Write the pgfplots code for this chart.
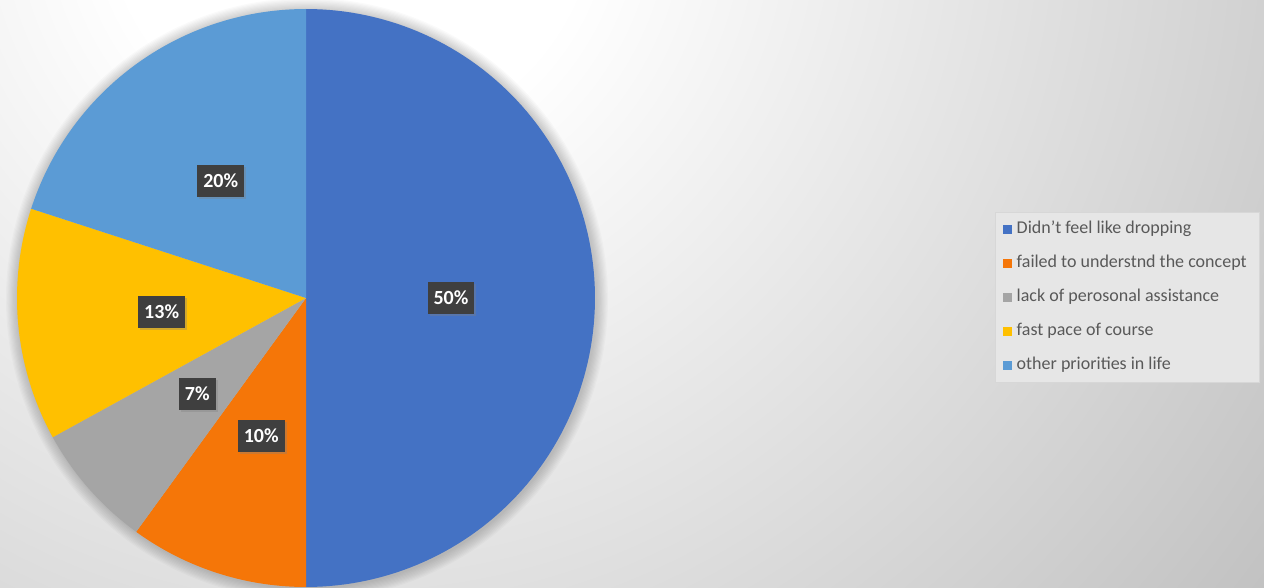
\documentclass[border=0pt]{standalone}
\usepackage{fontspec}
\setmainfont{Carlito}
\usepackage{pgfplots}
\pgfplotsset{compat=1.18}
\usetikzlibrary{shadows}
\definecolor{cA}{HTML}{4472C4}
\definecolor{cB}{HTML}{F57608}
\definecolor{cC}{HTML}{A5A5A5}
\definecolor{cD}{HTML}{FFC000}
\definecolor{cE}{HTML}{5B9BD5}
\definecolor{bgout}{HTML}{BEBEBE}
\definecolor{labbg}{HTML}{3F3F3F}
\definecolor{legtext}{HTML}{595959}
\definecolor{legfill}{HTML}{E6E6E6}
\pgfdeclareradialshading{bgs}{\pgfpointorigin}{color(0bp)=(white); color(5bp)=(white); color(25bp)=(bgout); color(50bp)=(bgout)}
\begin{document}
\begin{tikzpicture}
\useasboundingbox (0,0) rectangle (1264pt,587pt);
% background
\fill[bgout] (-2pt,-2pt) rectangle (1266pt,589pt);
\begin{scope}
\clip (-2pt,-2pt) rectangle (1266pt,589pt);
\shade[shading=bgs] (350pt,687pt) circle (1200pt);
% soft shadow around the pie
\foreach \i in {1,...,10}
  \fill[black, opacity=0.018] (307pt,288pt) circle ({289pt+\i*1.2pt});
\end{scope}
\begin{axis}[
  at={(0,0)}, anchor=south west,
  width=1264pt, height=587pt, scale only axis,
  xmin=0, xmax=1264, ymin=0, ymax=587,
  hide axis, clip=false,
  legend cell align=left,
  legend style={at={(0.7872,0.6388)}, anchor=north west,
    fill=legfill, draw=legfill!85!gray, text=legtext,
    font=\fontsize{18}{21}\selectfont,
    inner xsep=8pt, inner ysep=8.5pt,
    row sep=17pt,
    nodes={inner xsep=4.5pt, inner ysep=0pt, text height=13pt, text depth=4pt}},
  /tikz/lab/.style={fill=labbg, text=white, font=\bfseries\fontsize{20}{24}\selectfont,
    inner xsep=6pt, inner ysep=8.5pt, text height=14pt, text depth=1pt,
    drop shadow={opacity=0.35, shadow xshift=2pt, shadow yshift=-2pt}},
]
% slices: 50, 10, 7, 13, 20 (percent), clockwise from 90 deg
\addplot[fill=cA, draw=none, domain=-90:90, samples=120, variable=\t,
  legend image code/.code={\fill[cA] (1pt,-4.5pt) rectangle (10pt,4.5pt);}]
  ({306+289*cos(\t)},{289+289*sin(\t)}) -- (axis cs:306,289) -- cycle;
\addlegendentry{Didn't feel like dropping}
\addplot[fill=cB, draw=none, domain=-126:-90, samples=40, variable=\t,
  legend image code/.code={\fill[cB] (1pt,-4.5pt) rectangle (10pt,4.5pt);}]
  ({306+289*cos(\t)},{289+289*sin(\t)}) -- (axis cs:306,289) -- cycle;
\addlegendentry{failed to understnd the concept}
\addplot[fill=cC, draw=none, domain=-151.2:-126, samples=30, variable=\t,
  legend image code/.code={\fill[cC] (1pt,-4.5pt) rectangle (10pt,4.5pt);}]
  ({306+289*cos(\t)},{289+289*sin(\t)}) -- (axis cs:306,289) -- cycle;
\addlegendentry{lack of perosonal assistance}
\addplot[fill=cD, draw=none, domain=-198:-151.2, samples=50, variable=\t,
  legend image code/.code={\fill[cD] (1pt,-4.5pt) rectangle (10pt,4.5pt);}]
  ({306+289*cos(\t)},{289+289*sin(\t)}) -- (axis cs:306,289) -- cycle;
\addlegendentry{fast pace of course}
\addplot[fill=cE, draw=none, domain=-270:-198, samples=80, variable=\t,
  legend image code/.code={\fill[cE] (1pt,-4.5pt) rectangle (10pt,4.5pt);}]
  ({306+289*cos(\t)},{289+289*sin(\t)}) -- (axis cs:306,289) -- cycle;
\addlegendentry{other priorities in life}
% data labels at half radius, mid-angle of each slice
\node[lab] at (axis cs:{306+145*cos(0)},{289+145*sin(0)}) {50\%};
\node[lab] at (axis cs:{306+145*cos(-108)},{289+145*sin(-108)}) {10\%};
\node[lab] at (axis cs:{306+145*cos(-138.6)},{289+145*sin(-138.6)}) {7\%};
\node[lab] at (axis cs:{306+145*cos(-174.6)},{289+145*sin(-174.6)}) {13\%};
\node[lab] at (axis cs:{306+145*cos(126)},{289+145*sin(126)}) {20\%};
\end{axis}
\end{tikzpicture}
\end{document}
